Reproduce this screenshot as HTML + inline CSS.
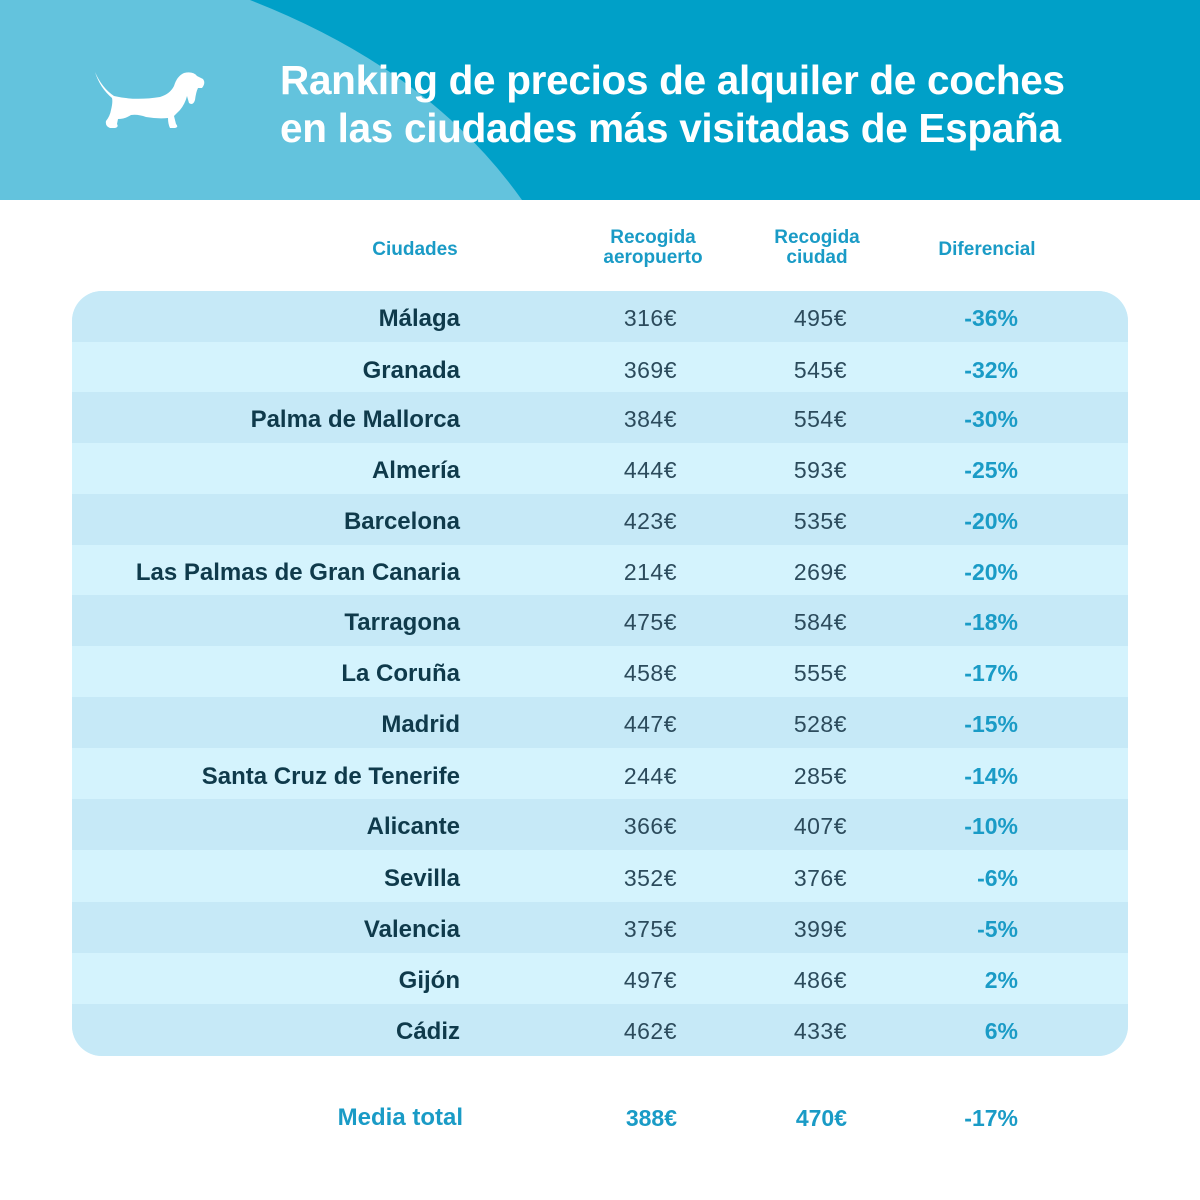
<!DOCTYPE html>
<html><head><meta charset="utf-8"><style>
*{margin:0;padding:0;box-sizing:border-box}
body{width:1200px;height:1200px;background:#fff;font-family:"Liberation Sans",sans-serif;position:relative;overflow:hidden}
.hdr{position:absolute;left:0;top:0;width:1200px;height:200px;background:#00a0c8;overflow:hidden}
.title{position:absolute;left:280px;top:56px;color:#fff;font-weight:bold;font-size:40.5px;line-height:48px;letter-spacing:-0.3px;white-space:nowrap}
.tbl{position:absolute;left:72px;top:291px;width:1056px;height:765px;border-radius:30px;overflow:hidden;background:#d4f3fd}
.row{position:absolute;left:0;width:1056px;height:51px}
.row.d{background:#c6e9f7}
.c{position:absolute;top:2px;line-height:51px;font-size:23px;text-align:right;white-space:nowrap}
.c1{right:668px;font-weight:bold;color:#0f3a4b;font-size:24px}
.c2{right:451px;color:#2c4b5c;letter-spacing:0.5px}
.c3{right:281px;color:#2c4b5c;letter-spacing:0.5px}
.c4{right:110px;font-weight:bold;color:#1a9bc6}
.h{position:absolute;color:#1a9bc6;font-weight:bold;font-size:19px;line-height:20px;text-align:center}
.m{position:absolute;top:1103px;font-size:23px;font-weight:bold;color:#1a9bc6;text-align:right;line-height:30px}
</style></head><body>
<div class="hdr">
<svg width="1200" height="200" style="position:absolute;left:0;top:0">
<path d="M0 0 L250 0 Q430 70 522 200 L0 200 Z" fill="#63c3dd"/>
<path fill="#fff" d="M95 72 Q102 88 114 96 Q135 101 160 97 Q170 94 174 86 Q177 76 184 73 Q193 71 197 76 L203 79 Q206 83 202 88 L198 88 Q196 92 195 100 Q193 106 189 103 L187 96 Q185 104 180 110 Q176 114 174 116 L176 124 Q179 127 175 128 L170 128 Q168 124 168 118 Q158 119 146 117 Q138 114 131 115 Q125 119 118 119 L117 124 Q119 127 115 128 L110 128 Q105 126 106 121 Q110 116 111 110 Q113 102 112 98 Q100 88 95 72 Z"/>
</svg>
<div class="title">Ranking de precios de alquiler de coches<br>en las ciudades más visitadas de España</div>
</div>
<div class="h" style="left:340px;top:240px;width:150px">Ciudades</div>
<div class="h" style="left:578px;top:228px;width:150px">Recogida<br>aeropuerto</div>
<div class="h" style="left:742px;top:228px;width:150px">Recogida<br>ciudad</div>
<div class="h" style="left:912px;top:240px;width:150px">Diferencial</div>
<div class="tbl">
<div class="row d" style="top:0"><div class="c c1">Málaga</div><div class="c c2">316€</div><div class="c c3">495€</div><div class="c c4">-36%</div></div>
<div class="row" style="top:52px"><div class="c c1">Granada</div><div class="c c2">369€</div><div class="c c3">545€</div><div class="c c4">-32%</div></div>
<div class="row d" style="top:101px"><div class="c c1">Palma de Mallorca</div><div class="c c2">384€</div><div class="c c3">554€</div><div class="c c4">-30%</div></div>
<div class="row" style="top:152px"><div class="c c1">Almería</div><div class="c c2">444€</div><div class="c c3">593€</div><div class="c c4">-25%</div></div>
<div class="row d" style="top:203px"><div class="c c1">Barcelona</div><div class="c c2">423€</div><div class="c c3">535€</div><div class="c c4">-20%</div></div>
<div class="row" style="top:254px"><div class="c c1">Las Palmas de Gran Canaria</div><div class="c c2">214€</div><div class="c c3">269€</div><div class="c c4">-20%</div></div>
<div class="row d" style="top:304px"><div class="c c1">Tarragona</div><div class="c c2">475€</div><div class="c c3">584€</div><div class="c c4">-18%</div></div>
<div class="row" style="top:355px"><div class="c c1">La Coruña</div><div class="c c2">458€</div><div class="c c3">555€</div><div class="c c4">-17%</div></div>
<div class="row d" style="top:406px"><div class="c c1">Madrid</div><div class="c c2">447€</div><div class="c c3">528€</div><div class="c c4">-15%</div></div>
<div class="row" style="top:458px"><div class="c c1">Santa Cruz de Tenerife</div><div class="c c2">244€</div><div class="c c3">285€</div><div class="c c4">-14%</div></div>
<div class="row d" style="top:508px"><div class="c c1">Alicante</div><div class="c c2">366€</div><div class="c c3">407€</div><div class="c c4">-10%</div></div>
<div class="row" style="top:560px"><div class="c c1">Sevilla</div><div class="c c2">352€</div><div class="c c3">376€</div><div class="c c4">-6%</div></div>
<div class="row d" style="top:611px"><div class="c c1">Valencia</div><div class="c c2">375€</div><div class="c c3">399€</div><div class="c c4">-5%</div></div>
<div class="row" style="top:662px"><div class="c c1">Gijón</div><div class="c c2">497€</div><div class="c c3">486€</div><div class="c c4">2%</div></div>
<div class="row d" style="top:713px;height:52px"><div class="c c1">Cádiz</div><div class="c c2">462€</div><div class="c c3">433€</div><div class="c c4">6%</div></div>
</div>
<div class="m" style="right:737px;font-size:24px">Media total</div>
<div class="m" style="right:523px">388€</div>
<div class="m" style="right:353px">470€</div>
<div class="m" style="right:182px">-17%</div>
</body></html>
